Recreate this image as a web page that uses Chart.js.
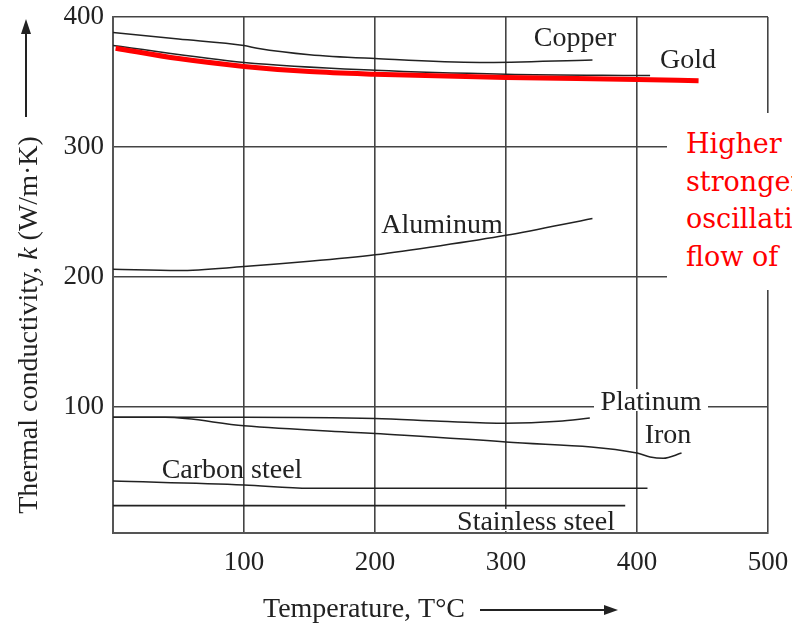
<!DOCTYPE html>
<html>
<head>
<meta charset="utf-8">
<script src="https://cdn.jsdelivr.net/npm/chart.js@4/dist/chart.umd.min.js"></script>
<style>
  html, body { margin: 0; padding: 0; background: #fff; }
  #wrap { position: relative; width: 792px; height: 627px; overflow: hidden; }
  #note {
    position: absolute; left: 667px; top: 113px; width: 125px; height: 177px;
    background: #fff; overflow: hidden; white-space: nowrap;
    font-family: "DejaVu Serif", serif; font-size: 27px; line-height: 37.5px;
    color: #f00; box-sizing: border-box; padding-left: 19px; padding-top: 12px;
  }
</style>
</head>
<body>
<div id="wrap">
  <canvas id="c" width="792" height="627"></canvas>
  <div id="note">Higher<br>stronger<br>oscillations<br>flow of</div>
</div>
<script>
// ---- Data (temperature T in °C, conductivity k in W/m·K) ----
const copperT = [0, 50, 100, 110, 150, 200, 280, 366];
const copperK = [388, 383, 378, 376, 371, 368, 365, 367];

const goldT = [0, 100, 200, 300, 410];
const goldK = [378, 365, 359, 356, 355];

const highlightT = [2, 50, 100, 150, 200, 300, 400, 447];
const highlightK = [376, 368, 362, 358, 356, 353.5, 352, 351];

const aluminumT = [0, 50, 100, 150, 200, 250, 300, 366];
const aluminumK = [206, 205, 208, 212, 217, 224, 232, 245];

const platinumT = [0, 100, 200, 250, 300, 340, 364];
const platinumK = [92, 92, 91, 89, 87.5, 89, 91.5];

const ironT = [0, 40, 100, 200, 300, 400, 410, 420, 434];
const ironK = [92, 92, 85.5, 79.5, 73, 64.5, 61.5, 60.5, 64.5];

const carbonT = [0, 100, 150, 200, 408];
const carbonK = [43, 40, 37.5, 37.5, 37.5];

const stainlessT = [0, 391];
const stainlessK = [24, 24];

const xTicks = [100, 200, 300, 400, 500];
const yTicks = [100, 200, 300, 400];

const curveLabels = ["Copper", "Gold", "Aluminum", "Platinum", "Iron", "Carbon steel", "Stainless steel"];

// ---- helpers ----
function pts(T, K) { return T.map((t, i) => ({ x: t, y: K[i] })); }
function curve(T, K, color, width, order) {
  return {
    data: pts(T, K), borderColor: color, borderWidth: width, pointRadius: 0,
    cubicInterpolationMode: 'monotone', fill: false, order: order
  };
}
function noPad(s) { s.paddingLeft = 0; s.paddingRight = 0; s.paddingTop = 0; s.paddingBottom = 0; }

const SERIF = '"Liberation Serif", "Times New Roman", serif';

const labelPos = [
  { x: 575, y: 46, bg: false },
  { x: 688, y: 68, bg: false },
  { x: 442, y: 233, bg: false },
  { x: 651, y: 410, bg: true, w: 114 },
  { x: 668, y: 443, bg: false },
  { x: 232, y: 478, bg: false },
  { x: 536, y: 530, bg: true, w: 166 }
];

const decor = {
  id: 'decor',
  afterDraw(chart) {
    const ctx = chart.ctx;
    ctx.save();
    ctx.fillStyle = '#222';
    ctx.strokeStyle = '#222';
    // curve labels
    ctx.font = '28px ' + SERIF;
    ctx.textAlign = 'center';
    ctx.textBaseline = 'alphabetic';
    curveLabels.forEach((t, i) => {
      const p = labelPos[i];
      if (p.bg) {
        ctx.fillStyle = '#fff';
        ctx.fillRect(p.x - p.w / 2, p.y - 21, p.w, 22);
        ctx.fillStyle = '#222';
      }
      ctx.fillText(t, p.x, p.y);
    });
    // x title
    ctx.textAlign = 'left';
    ctx.font = '28px ' + SERIF;
    ctx.fillText('Temperature, T°C', 263, 617);
    ctx.lineWidth = 2;
    ctx.beginPath(); ctx.moveTo(480, 610); ctx.lineTo(606, 610); ctx.stroke();
    ctx.beginPath(); ctx.moveTo(618, 610); ctx.lineTo(604, 605); ctx.lineTo(604, 615); ctx.closePath(); ctx.fill();
    // y title
    ctx.save();
    ctx.translate(37, 325);
    ctx.rotate(-Math.PI / 2);
    const parts = [
      { t: 'Thermal conductivity, ', f: '28px ' + SERIF },
      { t: 'k', f: 'italic 28px ' + SERIF },
      { t: ' (W/m·K)', f: '28px ' + SERIF }
    ];
    let total = 0;
    parts.forEach(p => { ctx.font = p.f; p.w = ctx.measureText(p.t).width; total += p.w; });
    let xx = -total / 2;
    parts.forEach(p => { ctx.font = p.f; ctx.fillText(p.t, xx, 0); xx += p.w; });
    ctx.restore();
    ctx.lineWidth = 2;
    ctx.beginPath(); ctx.moveTo(26, 117); ctx.lineTo(26, 32); ctx.stroke();
    ctx.beginPath(); ctx.moveTo(26, 19); ctx.lineTo(21, 34); ctx.lineTo(31, 34); ctx.closePath(); ctx.fill();
    ctx.restore();
  }
};

new Chart(document.getElementById('c'), {
  type: 'line',
  data: {
    datasets: [
      curve(highlightT, highlightK, '#ff0000', 5, -1),
      curve(copperT, copperK, '#222', 1.5, 1),
      curve(goldT, goldK, '#222', 1.5, 1),
      curve(aluminumT, aluminumK, '#222', 1.5, 1),
      curve(platinumT, platinumK, '#222', 1.5, 1),
      curve(ironT, ironK, '#222', 1.5, 1),
      curve(carbonT, carbonK, '#222', 1.5, 1),
      curve(stainlessT, stainlessK, '#222', 1.7, 1)
    ]
  },
  options: {
    responsive: false,
    animation: false,
    events: [],
    layout: { padding: { top: 17, right: 24, left: 0, bottom: 0 } },
    plugins: { legend: { display: false }, tooltip: { enabled: false } },
    scales: {
      x: {
        type: 'linear', min: 0, max: 500,
        afterBuildTicks(s) { s.ticks = [0].concat(xTicks).map(v => ({ value: v })); },
        afterFit(s) { s.height = 94; noPad(s); },
        grid: { color: '#444', lineWidth: 1.6, drawTicks: false },
        border: { color: '#555', width: 2 },
        ticks: {
          padding: 14, color: '#222', font: { family: SERIF, size: 27 },
          maxRotation: 0, autoSkip: false,
          callback: v => (xTicks.includes(v) ? String(v) : '')
        }
      },
      y: {
        type: 'linear', min: 3, max: 400,
        afterBuildTicks(s) { s.ticks = [3].concat(yTicks).map(v => ({ value: v })); },
        afterFit(s) { s.width = 113; noPad(s); },
        grid: { color: '#444', lineWidth: 1.6, drawTicks: false },
        border: { color: '#555', width: 2 },
        ticks: {
          padding: 9, color: '#222', font: { family: SERIF, size: 27 },
          autoSkip: false,
          callback: v => (yTicks.includes(v) ? String(v) : '')
        }
      }
    }
  },
  plugins: [decor]
});
</script>
</body>
</html>
